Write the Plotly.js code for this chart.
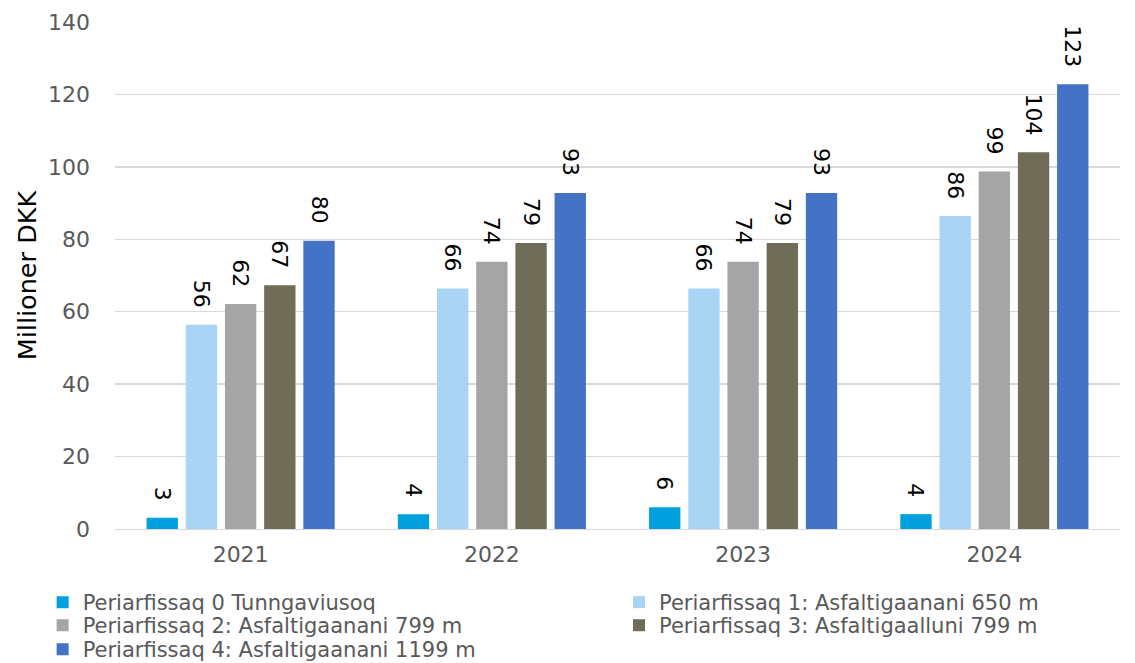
<!DOCTYPE html>
<html><head><meta charset="utf-8">
<script src="https://cdn.plot.ly/plotly-3.0.1.min.js"></script>
<style>html,body{margin:0;padding:0;background:#fff}</style>
</head><body>
<div id="chart" style="width:1135px;height:663px"></div>
<script>
const years = ['2021','2022','2023','2024'];
const seriesNames = ['Periarfissaq 0 Tunngaviusoq','Periarfissaq 1: Asfaltigaanani 650 m','Periarfissaq 2: Asfaltigaanani 799 m','Periarfissaq 3: Asfaltigaalluni 799 m','Periarfissaq 4: Asfaltigaanani 1199 m'];
const s0 = [3.1, 4.1, 6.0, 4.1];
const s1 = [56.4, 66.4, 66.4, 86.4];
const s2 = [62.1, 73.8, 73.8, 98.7];
const s3 = [67.3, 79.0, 79.0, 104.0];
const s4 = [79.6, 92.8, 92.8, 122.8];
const colors = ['#00A0DF','#A9D4F4','#A5A5A5','#6F6C58','#4472C4'];
const legendIds = ['legend','legend2','legend3','legend4','legend5'];
const all = [s0,s1,s2,s3,s4];
const font = 'Verdana, "DejaVu Sans", sans-serif';
const traces = all.map((v,i)=>({
  type:'bar', x:years, y:v, name:seriesNames[i], legend:legendIds[i],
  marker:{color:colors[i]},
  text:v.map(d=>Math.round(d).toString()+'\u00a0\u00a0'), textposition:'outside', textangle:90,
  constraintext:'none',
  textfont:{family:font,size:22,color:'#000'}, cliponaxis:false,
  hoverinfo:'skip'
}));
const legBase = {orientation:'v', yanchor:'top', xanchor:'left',
  font:{family:font,size:21,color:'#595959'}, itemwidth:30, tracegroupgap:0,
  bgcolor:'rgba(0,0,0,0)'};
const colX = [-0.072, 0.5015];
const rowY = [-0.1045, -0.150, -0.1972];
const leg = (c,r)=>Object.assign({}, legBase, {x:colX[c], y:rowY[r]});
Plotly.newPlot('chart', traces, {
  width:1135, height:663,
  margin:{l:115,r:15,t:22,b:134,autoexpand:false},
  barmode:'group', bargap:0.22, bargroupgap:0.2,
  font:{family:font,color:'#595959'},
  xaxis:{tickfont:{size:22,color:'#595959'}, showline:true, linecolor:'#D9D9D9', linewidth:1, ticks:'', ticklabelstandoff:6},
  yaxis:{range:[0,140], dtick:20, tickfont:{size:22,color:'#595959'}, gridcolor:'#D9D9D9', gridwidth:1.5, zeroline:false,
    ticklabelstandoff:24,
    title:{text:'Millioner DKK', font:{size:25.5,color:'#000'}, standoff:4}},
  legend:leg(0,0), legend2:leg(1,0), legend3:leg(0,1), legend4:leg(1,1), legend5:leg(0,2),
  showlegend:true, plot_bgcolor:'#fff', paper_bgcolor:'#fff'
}, {staticPlot:true});
</script>
</body></html>
